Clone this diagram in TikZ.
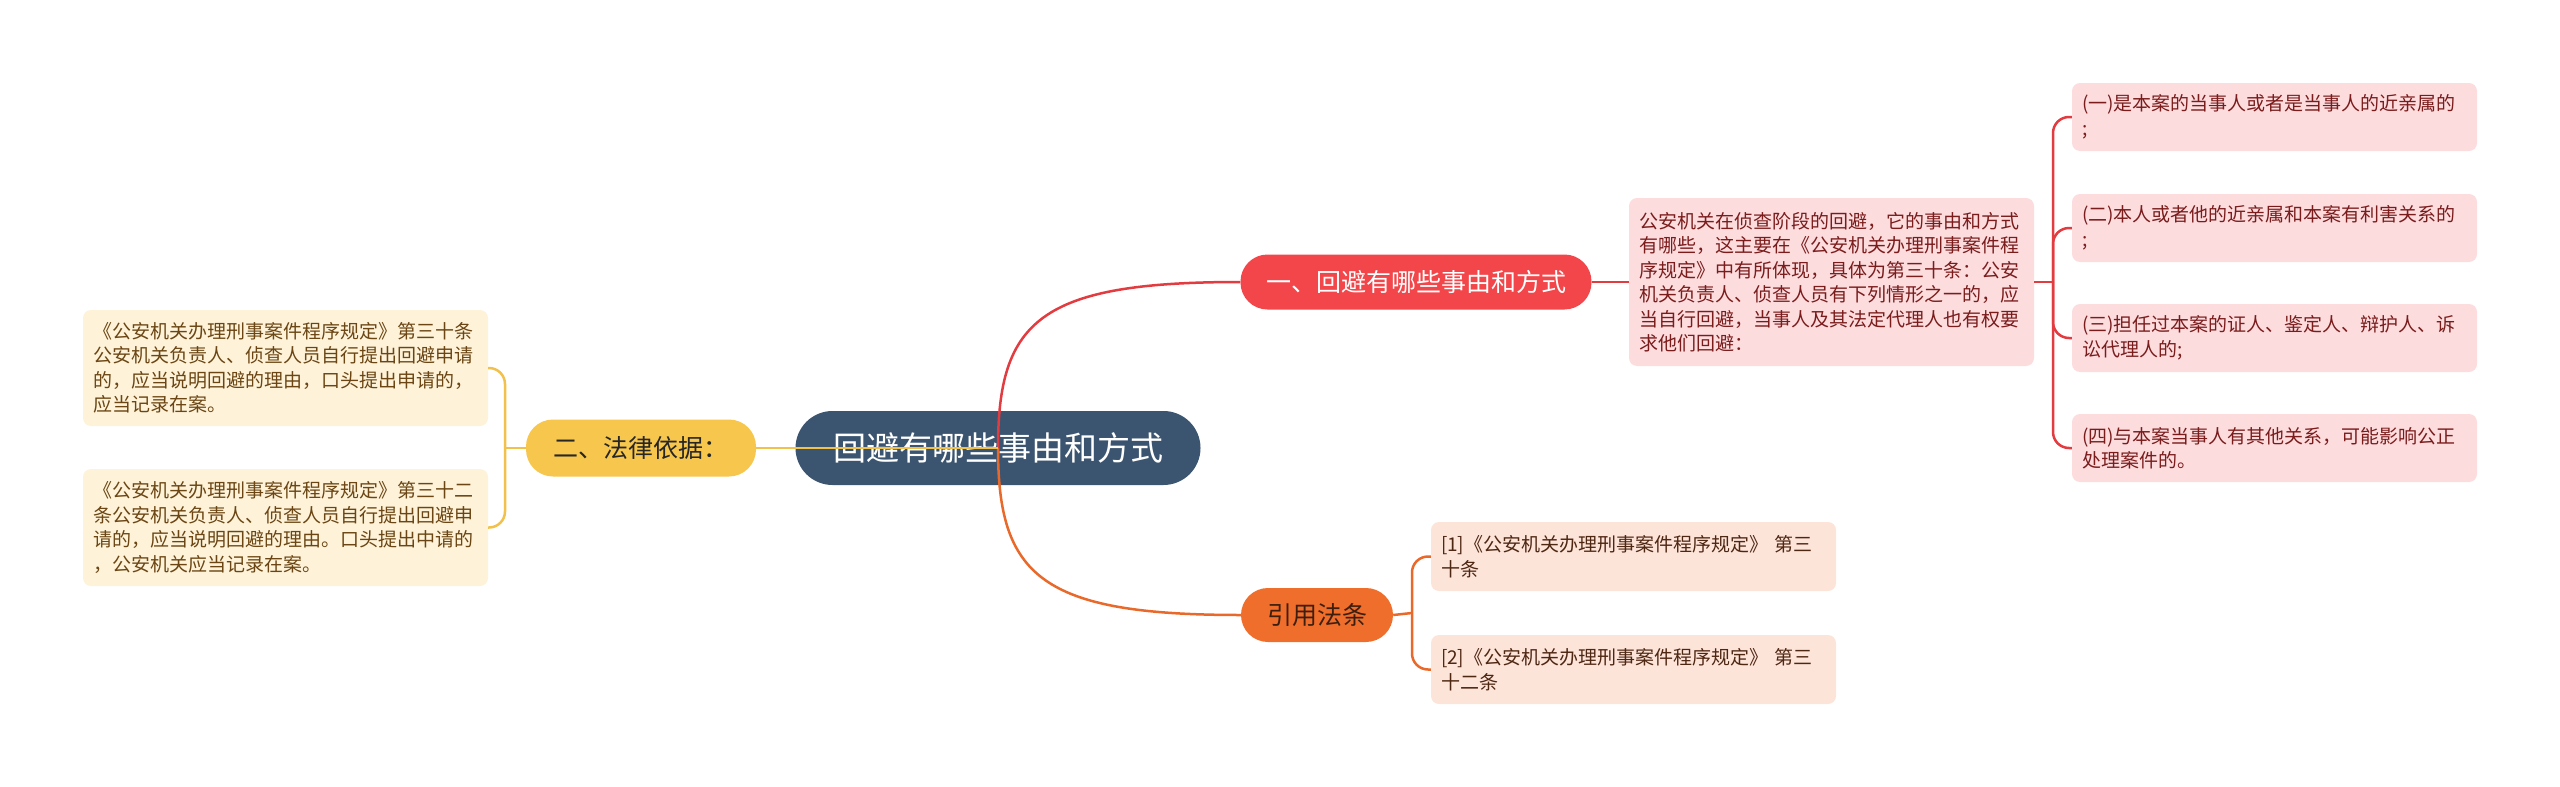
\documentclass[tikz,border=0pt]{standalone}
\usepackage{fontspec}
\setmainfont{Noto Sans CJK SC}
\definecolor{rootbg}{HTML}{3B5570}
\definecolor{rednode}{HTML}{F2464A}
\definecolor{redline}{HTML}{E23B40}
\definecolor{yellownode}{HTML}{F7C64C}
\definecolor{yellowline}{HTML}{F2C14C}
\definecolor{orangenode}{HTML}{EF6E2B}
\definecolor{orangeline}{HTML}{E9692A}
\definecolor{pinkbox}{HTML}{FDDCDE}
\definecolor{pinktext}{HTML}{7A1C1C}
\definecolor{creambox}{HTML}{FEF3D9}
\definecolor{creamtext}{HTML}{6B4513}
\definecolor{peachbox}{HTML}{FDE4D9}
\definecolor{peachtext}{HTML}{4E2713}
\tikzset{
  root/.style={fill=rootbg, text=white, minimum width=405pt, minimum height=74pt,
    rounded corners=37pt, inner sep=0pt, font=\fontsize{33pt}{40pt}\selectfont},
  topic/.style={minimum height=55pt, rounded corners=27pt, inner sep=0pt,
    font=\fontsize{25pt}{30pt}\selectfont},
  leaf/.style={rounded corners=8pt, text width=385pt, align=left, inner xsep=10pt,
    inner ysep=0pt, font=\fontsize{19pt}{24.5pt}\selectfont},
  link/.style={line width=2.5pt, rounded corners=16pt},
}
\begin{document}
\begin{tikzpicture}[x=1pt,y=-1pt]
  \useasboundingbox (0,0) rectangle (2560,787);

  % main topic and the three branches
  \node[root] (m) at (998,448) {回避有哪些事由和方式};
  \node[topic, fill=rednode, text=white, minimum width=351pt] (r) at (1416,282) {一、回避有哪些事由和方式};
  \node[topic, fill=yellownode, text=black!85, minimum width=230pt, minimum height=57pt] (y) at (641,448) {二、法律依据：};
  \node[topic, fill=orangenode, text=peachtext!80!black, minimum width=152pt, minimum height=54pt] (o) at (1317,615) {引用法条};

  % red branch
  \node[leaf, fill=pinkbox, text=pinktext, minimum height=168pt] (p) at (1831.5,282) {公安机关在侦查阶段的回避，它的事由和方式\\有哪些，这主要在《公安机关办理刑事案件程\\序规定》中有所体现，具体为第三十条：公安\\机关负责人、侦查人员有下列情形之一的，应\\当自行回避，当事人及其法定代理人也有权要\\求他们回避：};
  \node[leaf, fill=pinkbox, text=pinktext, minimum height=68pt] (p1) at (2274.5,117) {(一)是本案的当事人或者是当事人的近亲属的\\;};
  \node[leaf, fill=pinkbox, text=pinktext, minimum height=68pt] (p2) at (2274.5,228) {(二)本人或者他的近亲属和本案有利害关系的\\;};
  \node[leaf, fill=pinkbox, text=pinktext, minimum height=68pt] (p3) at (2274.5,338) {(三)担任过本案的证人、鉴定人、辩护人、诉\\讼代理人的;};
  \node[leaf, fill=pinkbox, text=pinktext, minimum height=68pt] (p4) at (2274.5,448) {(四)与本案当事人有其他关系，可能影响公正\\处理案件的。};

  % yellow branch
  \node[leaf, fill=creambox, text=creamtext, minimum height=116pt] (l1) at (285.5,368) {《公安机关办理刑事案件程序规定》第三十条\\公安机关负责人、侦查人员自行提出回避申请\\的，应当说明回避的理由，口头提出申请的，\\应当记录在案。};
  \node[leaf, fill=creambox, text=creamtext, minimum height=117pt] (l2) at (285.5,527.5) {《公安机关办理刑事案件程序规定》第三十二\\条公安机关负责人、侦查人员自行提出回避申\\请的，应当说明回避的理由。口头提出中请的\\，公安机关应当记录在案。};

  % orange branch
  \node[leaf, fill=peachbox, text=peachtext, minimum height=69pt] (o1) at (1633.5,556.5) {[1]《公安机关办理刑事案件程序规定》 第三\\十条};
  \node[leaf, fill=peachbox, text=peachtext, minimum height=69pt] (o2) at (1633.5,669.5) {[2]《公安机关办理刑事案件程序规定》 第三\\十二条};

  \coordinate (jr) at (2053,282);
  \coordinate (jy) at (505,448);
  \coordinate (jo) at (1412,613);

  % connectors
  \draw[link, redline] (m.center) .. controls +(0,-128) and +(-200,0) .. (r.west);
  \draw[link, orangeline] (m.center) .. controls +(0,128) and +(-200,0) .. (o.west);
  \draw[link, yellowline] (m.center) -- (y.east);

  \draw[link, redline] (r.east) -- (p.west);
  \draw[link, redline] (p.east) -- (jr);
  \foreach \n in {p1,p2,p3,p4}
    \draw[link, redline] (jr) |- (\n.west);

  \draw[link, yellowline] (y.west) -- (jy);
  \foreach \n in {l1,l2}
    \draw[link, yellowline] (jy) |- (\n.east);

  \draw[link, orangeline] (o.east) -- (jo);
  \foreach \n in {o1,o2}
    \draw[link, orangeline] (jo) |- (\n.west);
\end{tikzpicture}
\end{document}
